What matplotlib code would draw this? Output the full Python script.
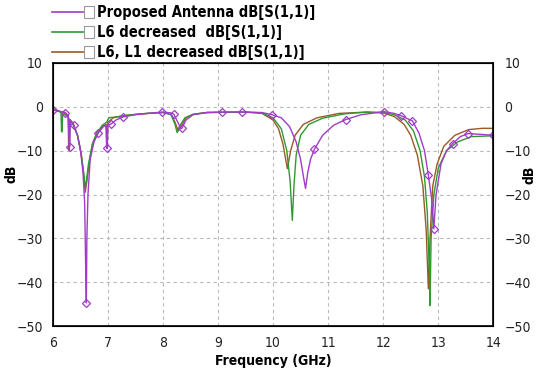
import matplotlib
matplotlib.use('Agg')
import matplotlib.pyplot as plt
from matplotlib import font_manager
from matplotlib.lines import Line2D
from matplotlib.patches import Rectangle

# Proposed Antenna dB[S(1,1)]
prop_f = [6.00, 6.10, 6.20, 6.23, 6.28, 6.30, 6.31, 6.32, 6.38, 6.45, 6.50, 6.55, 6.58, 6.60,
          6.61, 6.62, 6.64, 6.68, 6.75, 6.83, 6.92, 6.97, 6.98, 6.99, 7.00, 7.05, 7.15, 7.28,
          7.50, 7.80, 8.00, 8.15, 8.20, 8.27, 8.33, 8.35, 8.42, 8.55, 8.80, 9.08, 9.43, 9.80,
          9.98, 10.15, 10.30, 10.42, 10.50, 10.56, 10.59, 10.63, 10.68, 10.75, 10.90, 11.10,
          11.32, 11.60, 12.01, 12.20, 12.32, 12.53, 12.65, 12.75, 12.82, 12.88, 12.92, 12.96,
          13.05, 13.15, 13.26, 13.40, 13.54, 13.80, 14.00]
prop_db = [-0.7, -1.0, -1.2, -1.3, -2.0, -9.1, -9.1, -3.0, -4.2, -6.5, -9.5, -15, -22, -38,
           -44.7, -30, -20, -12, -8, -5.9, -4.5, -4.3, -9.5, -9.5, -4.2, -4.0, -3.0, -2.3,
           -1.8, -1.4, -1.2, -1.4, -1.7, -3.5, -5.0, -4.8, -3.0, -1.8, -1.3, -1.2, -1.2, -1.3,
           -1.8, -2.5, -4.5, -8, -12, -16.5, -18.6, -15, -12, -9.7, -6.5, -4.2,
           -2.9, -1.8, -1.1, -1.5, -2.0, -3.2, -6, -10, -15.6, -21, -27.8, -20,
           -13, -10, -8.4, -6.8, -6.1, -6.3, -6.5]
mk_f = [6.00, 6.23, 6.31, 6.38, 6.61, 6.83, 6.99, 7.05, 7.28, 7.99, 8.20, 8.35, 9.08, 9.43,
        9.98, 10.75, 11.32, 12.01, 12.32, 12.53, 12.82, 12.92, 13.26, 13.54, 14.00]
mk_db = [-0.7, -1.3, -9.1, -4.2, -44.7, -5.9, -9.5, -4.0, -2.3, -1.2, -1.7, -4.8, -1.2, -1.2,
         -1.8, -9.7, -2.9, -1.1, -2.0, -3.2, -15.6, -27.8, -8.4, -6.1, -6.5]

# L6 decreased dB[S(1,1)]
l6_f = [6.00, 6.10, 6.15, 6.16, 6.17, 6.18, 6.25, 6.35, 6.45, 6.52, 6.57, 6.59, 6.61, 6.65,
        6.72, 6.80, 6.90, 6.98, 7.02, 7.15, 7.30, 7.60, 8.00, 8.15, 8.22, 8.26, 8.30, 8.40,
        8.55, 8.80, 9.50, 9.80, 10.00, 10.15, 10.25, 10.31, 10.35, 10.38, 10.42, 10.50, 10.65,
        10.90, 11.30, 11.70, 12.00, 12.20, 12.40, 12.55, 12.67, 12.75, 12.80, 12.84, 12.85,
        12.87, 12.92, 13.00, 13.15, 13.35, 13.60, 14.00]
l6_db = [-0.5, -1.0, -1.3, -5.7, -5.7, -1.5, -2.0, -3.5, -6.5, -11, -16, -18.3, -17, -13,
         -8.5, -6, -4.2, -3.5, -2.5, -2.3, -2.0, -1.6, -1.3, -1.8, -4.0, -5.9, -4.5, -2.5,
         -1.7, -1.3, -1.2, -1.4, -2.5, -5.0, -10, -17, -25.9, -18, -11, -6.5, -4.0,
         -2.6, -1.6, -1.2, -1.3, -1.8, -3.0, -5.5, -10, -16, -24, -38, -45.3,
         -30, -20, -14, -10, -8, -6.8, -6.6]

# L6, L1 decreased dB[S(1,1)]
l61_f = [6.00, 6.15, 6.25, 6.28, 6.29, 6.30, 6.31, 6.38, 6.45, 6.52, 6.56, 6.59, 6.62, 6.66,
         6.72, 6.80, 6.90, 6.97, 6.98, 6.99, 7.00, 7.10, 7.30, 7.60, 8.00, 8.15, 8.22, 8.28,
         8.33, 8.42, 8.55, 8.80, 9.50, 9.80, 10.00, 10.10, 10.18, 10.26, 10.32, 10.40, 10.55,
         10.80, 11.20, 11.70, 12.00, 12.20, 12.38, 12.50, 12.62, 12.72, 12.78, 12.82, 12.85,
         12.90, 12.98, 13.10, 13.30, 13.55, 13.80, 14.00]
l61_db = [-0.5, -1.1, -1.8, -2.0, -9.9, -9.9, -3.0, -4.0, -6.5, -11, -15, -19.5, -17, -13,
          -8.5, -6.0, -4.5, -4.0, -9.0, -9.0, -3.5, -2.5, -2.0, -1.6, -1.3, -1.7, -3.5, -5.5,
          -4.5, -2.5, -1.7, -1.3, -1.2, -1.5, -3.0, -5.0, -8.5, -14.1, -10, -6.5, -4.0,
          -2.5, -1.5, -1.2, -1.4, -2.2, -4.0, -6.5, -11, -18, -28, -41.5, -30,
          -18, -13, -9, -6.5, -5.2, -4.9, -4.9]

labels = ['Proposed Antenna dB[S(1,1)]', 'L6 decreased  dB[S(1,1)]', 'L6, L1 decreased dB[S(1,1)]']
c_prop = '#a03cc8'
c_l6 = '#2f9a2f'
c_l61 = '#9a5a28'


# pick a narrow font if one exists
def narrow_font():
    for fam, st in [('Liberation Sans Narrow', 'normal'), ('DejaVu Sans', 'condensed'),
                    ('Roboto Condensed', 'normal'), ('Open Sans Condensed', 'normal')]:
        try:
            p = font_manager.findfont(font_manager.FontProperties(family=fam, stretch=st),
                                      fallback_to_default=False)
        except Exception:
            continue
        if 'narrow' in p.lower() or 'condensed' in p.lower():
            return fam, st
    return 'Liberation Sans', 'normal'


fam, st = narrow_font()
plt.rcParams['font.family'] = [fam, 'DejaVu Sans']
plt.rcParams['font.stretch'] = st

fig = plt.figure(figsize=(5.38, 3.77), dpi=100)
ax = fig.add_axes([0.098, 0.135, 0.819, 0.698])

ax.plot(l61_f, l61_db, color=c_l61, lw=1.0)
ax.plot(l6_f, l6_db, color=c_l6, lw=1.0)
ax.plot(prop_f, prop_db, color=c_prop, lw=1.0)
ax.plot(mk_f, mk_db, ls='none', marker='D', ms=4.5, mfc='none', mec=c_prop, mew=0.9)

ax.set_xlim(6, 14)
ax.set_ylim(-50, 10)
ax.set_xticks(range(6, 15))
ax.set_yticks(range(-50, 11, 10))
ax.grid(True, color='#b8b8b8', ls=(0, (3, 3)), lw=0.8)
ax.tick_params(axis='both', length=0, labelsize=10, pad=7, labelcolor='#222222')
for s in ax.spines.values():
    s.set_linewidth(1.2)

ax2 = ax.twinx()
ax2.set_ylim(-50, 10)
ax2.set_yticks(range(-50, 11, 10))
ax2.tick_params(axis='y', length=0, labelsize=10, pad=8, labelcolor='#222222')

ax.set_xlabel('Frequency (GHz)', fontsize=10, fontweight='bold', labelpad=3)
W, H = 538, 377
fig.text(12 / W, 1 - 174 / H, 'dB', rotation=90, fontsize=10, fontweight='bold',
         ha='center', va='center')
fig.text(530 / W, 1 - 175 / H, 'dB', rotation=90, fontsize=10, fontweight='bold',
         ha='center', va='center')

# legend above plot
for i, (lab, col) in enumerate(zip(labels, [c_prop, c_l6, c_l61])):
    y = 1 - (12 + i * 20) / H
    fig.add_artist(Line2D([52 / W, 83 / W], [y, y], color=col, lw=1.2))
    fig.add_artist(Rectangle((84 / W, y - 6 / H), 10 / W, 12 / H, fill=False,
                             ec='#9a9a9a', lw=0.8))
    fig.text(97 / W, y, lab, fontsize=10.5, fontweight='bold', va='center', ha='left')

fig.savefig('out.png', dpi=100)
